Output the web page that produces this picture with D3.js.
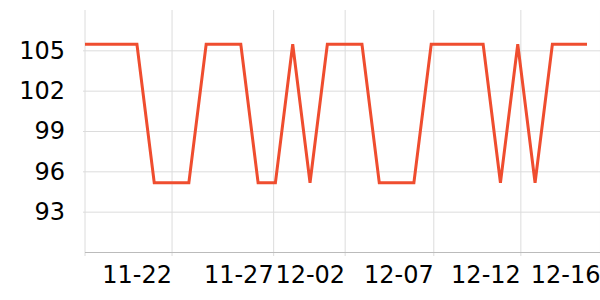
<!DOCTYPE html>
<html>
<head>
<meta charset="utf-8">
<script src="https://cdn.jsdelivr.net/npm/d3@7"></script>
<style>
  body { margin: 0; background: #fff; }
  text { font-family: "DejaVu Sans", sans-serif; }
</style>
</head>
<body>
<div id="chart"></div>
<script>
// daily points, 11-17 .. 12-16
var days = ["11-17","11-18","11-19","11-20","11-21","11-22","11-23","11-24","11-25","11-26",
            "11-27","11-28","11-29","11-30","12-01","12-02","12-03","12-04","12-05","12-06",
            "12-07","12-08","12-09","12-10","12-11","12-12","12-13","12-14","12-15","12-16"];
var values = [105.45,105.45,105.45,105.45,95.15,95.15,95.15,105.45,105.45,105.45,
              95.15,95.15,105.45,95.15,105.45,105.45,105.45,95.15,95.15,95.15,
              105.45,105.45,105.45,105.45,95.15,105.45,95.15,105.45,105.45,105.45];
var tickLabels = ["11-22","11-27","12-02","12-07","12-12","12-16"];
var tickAt = [5, 10.87, 15, 20.12, 25.15, 29.75];
var yTicks = [93, 96, 99, 102, 105];

var margin = {top: 10, right: 0, bottom: 48, left: 85},
    width = 600 - margin.left - margin.right,
    height = 300 - margin.top - margin.bottom;

var svg = d3.select("#chart").append("svg")
  .attr("width", 600)
  .attr("height", 300)
  .append("g")
  .attr("transform", "translate(" + margin.left + "," + margin.top + ")");

var x = d3.scaleLinear().domain([0, days.length - 1]).range([0, 502]);
var y = d3.scaleLinear().domain([90, 108]).range([height, 0]);

// horizontal grid + y labels
var yAxis = d3.axisLeft(y)
  .tickValues(yTicks)
  .tickSize(-width - 2)
  .tickPadding(18)
  .tickFormat(d3.format("d"));

var gy = svg.append("g")
  .attr("transform", "translate(-2,0)")
  .call(yAxis);
gy.select(".domain").remove();
gy.selectAll(".tick line").attr("stroke", "#dcdcdc");
gy.selectAll(".tick text")
  .attr("x", -18)
  .attr("fill", "#000")
  .style("font-size", "24px");

// vertical grid + x labels
var xAxis = d3.axisBottom(x)
  .tickValues(tickAt)
  .tickSize(-height)
  .tickFormat(function(d, i) { return tickLabels[i]; });

var gx = svg.append("g")
  .attr("transform", "translate(0," + height + ")")
  .call(xAxis);
gx.select(".domain").remove();
gx.selectAll(".tick line")
  .attr("stroke", "#dcdcdc")
  .attr("y1", 4);
gx.selectAll(".tick text")
  .attr("text-anchor", "end")
  .attr("y", 31)
  .attr("dy", 0)
  .attr("fill", "#000")
  .style("font-size", "24px");

// left and bottom lines
svg.append("line")
  .attr("x1", 0).attr("x2", 0)
  .attr("y1", 0).attr("y2", height + 4)
  .attr("stroke", "#dcdcdc");
svg.append("line")
  .attr("x1", 0).attr("x2", width)
  .attr("y1", height + 0.5).attr("y2", height + 0.5)
  .attr("stroke", "#bbbbbb");

var line = d3.line()
  .x(function(d, i) { return x(i); })
  .y(function(d) { return y(d); });

svg.append("path")
  .datum(values)
  .attr("d", line)
  .attr("fill", "none")
  .attr("stroke", "#ef4d2f")
  .attr("stroke-width", 3)
  .attr("stroke-linejoin", "miter");
</script>
</body>
</html>
